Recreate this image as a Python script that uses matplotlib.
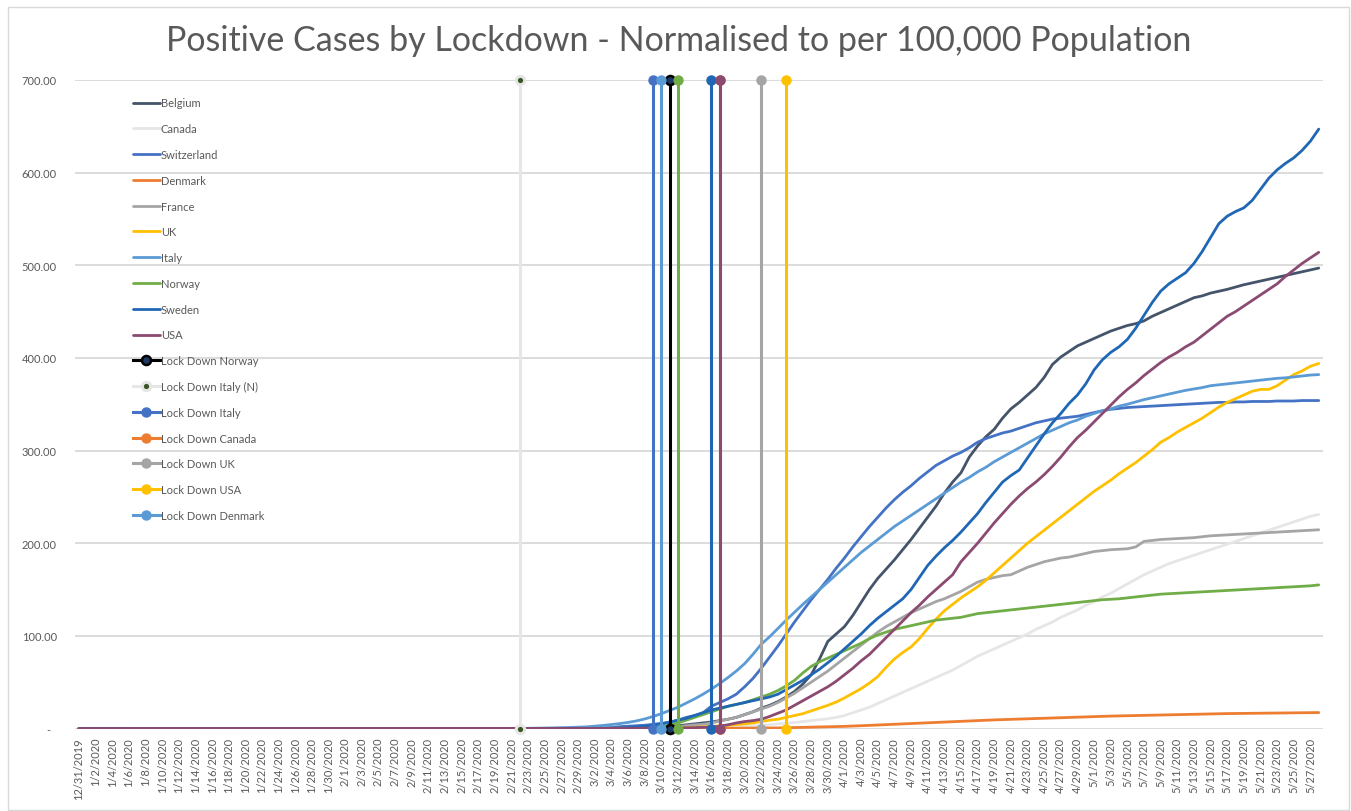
import pandas as pd
import matplotlib
matplotlib.use("Agg")
import matplotlib.pyplot as plt
from matplotlib.patches import Rectangle

plt.rcParams['font.family'] = ['Lato', 'DejaVu Sans']

# Daily categories 12/31/2019 .. 5/28/2020
dates = pd.date_range('2019-12-31', '2020-05-28', freq='D')
date_labels = [f"{d.month}/{d.day}/{d.year}" for d in dates]

# cases per 100,000 population, one value per day
belgium = [
    0, 0, 0, 0, 0, 0, 0, 0, 0, 0,
    0, 0, 0, 0, 0, 0, 0, 0, 0, 0,
    0, 0, 0, 0, 0, 0, 0, 0, 0, 0,
    0, 0, 0, 0, 0, 0, 0, 0, 0, 0,
    0, 0, 0, 0, 0, 0, 0, 0, 0, 0,
    0, 0, 0, 0, 0, 0, 0, 0, 0, 0,
    0, 0, 0, 0.1, 0.1, 0.2, 0.2, 0.2, 0.3, 1.0,
    2.0, 2.5, 3, 4, 5, 6, 7, 8.5, 10, 12,
    15, 18, 22, 25, 29, 34, 40, 48, 58, 75,
    94, 102, 110, 122, 136, 150, 162, 172, 182, 193,
    204, 216, 228, 240, 254, 266, 276, 293, 305, 315,
    323, 335, 345, 352, 360, 368, 379, 393, 401, 407,
    413, 417, 421, 425, 429, 432, 435, 437, 440, 445,
    449, 453, 457, 461, 465, 467, 470, 472, 474, 476.5,
    479, 481, 483, 485, 487, 489, 491, 493, 495, 497,
]
canada = [
    0, 0, 0, 0, 0, 0, 0, 0, 0, 0,
    0, 0, 0, 0, 0, 0, 0, 0, 0, 0,
    0, 0, 0, 0, 0, 0, 0, 0, 0, 0,
    0, 0, 0, 0, 0, 0, 0, 0, 0, 0,
    0, 0, 0, 0, 0, 0, 0, 0, 0, 0,
    0, 0, 0, 0, 0, 0, 0, 0, 0, 0,
    0, 0, 0, 0, 0, 0, 0, 0, 0.1, 0.1,
    0.2, 0.3, 0.4, 0.5, 0.6, 0.8, 1, 1.2, 1.6, 2,
    2.5, 3, 3.5, 4, 5, 5.5, 6.5, 7.5, 8.5, 9.5,
    10.5, 12, 14, 17, 20, 23, 27, 31, 35, 39,
    43, 47, 51, 55, 59, 63, 68, 73, 78, 82,
    86, 90, 94, 98, 102, 107, 111, 115, 120, 124,
    128, 133, 137, 142, 146, 151, 156, 161, 166, 170,
    174, 178, 181, 184, 187, 190, 193, 196, 199, 202,
    205, 208, 211, 214, 217, 220, 223, 226, 229, 231,
]
switzerland = [
    0, 0, 0, 0, 0, 0, 0, 0, 0, 0,
    0, 0, 0, 0, 0, 0, 0, 0, 0, 0,
    0, 0, 0, 0, 0, 0, 0, 0, 0, 0,
    0, 0, 0, 0, 0, 0, 0, 0, 0, 0,
    0, 0, 0, 0, 0, 0, 0, 0, 0, 0,
    0, 0, 0, 0, 0, 0, 0, 0.1, 0.2, 0.2,
    0.2, 0.3, 0.5, 0.7, 1.0, 2.0, 2.5, 3.0, 3.5, 4.5,
    5.5, 6.5, 9, 12, 14, 17, 24, 28, 32, 37,
    45, 54, 65, 77, 89, 102, 115, 127, 139, 150,
    161, 173, 184, 196, 207, 218, 228, 238, 247, 255,
    262, 270, 277, 284, 289, 294, 298, 303, 309, 313,
    316, 319, 321, 324, 327, 330, 332, 334, 335, 336,
    337, 339, 341, 343, 344.5, 345.5, 346.5, 347, 347.5, 348,
    348.5, 349, 349.5, 350, 350.5, 351, 351.5, 352, 352, 352.5,
    352.5, 353, 353, 353, 353.5, 353.5, 353.5, 354, 354, 354,
]
denmark = [
    0, 0, 0, 0, 0, 0, 0, 0, 0, 0,
    0, 0, 0, 0, 0, 0, 0, 0, 0, 0,
    0, 0, 0, 0, 0, 0, 0, 0, 0, 0,
    0, 0, 0, 0, 0, 0, 0, 0, 0, 0,
    0, 0, 0, 0, 0, 0, 0, 0, 0, 0,
    0, 0, 0, 0, 0, 0, 0, 0, 0, 0,
    0, 0, 0, 0, 0, 0, 0, 0, 0, 0,
    0, 0.05, 0.05, 0.1, 0.1, 0.1, 0.15, 0.2, 0.2, 0.25,
    0.3, 0.3, 0.4, 0.5, 0.6, 0.8, 1, 1.2, 1.4, 1.6,
    1.8, 2, 2.3, 2.6, 3, 3.4, 3.8, 4.2, 4.6, 5,
    5.4, 5.8, 6.2, 6.6, 7, 7.4, 7.8, 8.2, 8.6, 9,
    9.3, 9.6, 9.9, 10.2, 10.5, 10.8, 11.1, 11.4, 11.7, 12,
    12.2, 12.5, 12.8, 13.1, 13.4, 13.6, 13.8, 14, 14.2, 14.4,
    14.6, 14.8, 15, 15.2, 15.4, 15.6, 15.8, 16, 16.1, 16.2,
    16.3, 16.4, 16.5, 16.6, 16.7, 16.8, 16.9, 17, 17.1, 17.2,
]
france = [
    0, 0, 0, 0, 0, 0, 0, 0, 0, 0,
    0, 0, 0, 0, 0, 0, 0, 0, 0, 0,
    0, 0, 0, 0, 0, 0, 0, 0, 0, 0,
    0, 0, 0, 0, 0, 0, 0, 0, 0, 0,
    0, 0, 0, 0, 0, 0, 0, 0, 0, 0,
    0, 0, 0, 0, 0, 0, 0, 0, 0, 0,
    0, 0, 0, 0, 0.1, 0.2, 0.3, 0.4, 0.5, 0.7,
    1.0, 1.5, 2, 3, 4, 4.5, 6, 8, 10, 12,
    15, 18, 21, 24, 28, 33, 38, 44, 50, 56,
    62, 69, 76, 83, 90, 97, 104, 110, 115, 120,
    125, 129, 133, 137, 140, 144, 148, 153, 158, 161,
    163, 165, 166, 170, 174, 177, 180, 182, 184, 185,
    187, 189, 191, 192, 193, 193.5, 194, 196, 202, 203,
    204, 204.5, 205, 205.5, 206, 207, 208, 208.5, 209, 209.5,
    210, 210.5, 211, 211.5, 212, 212.5, 213, 213.5, 214, 214.5,
]
uk = [
    0, 0, 0, 0, 0, 0, 0, 0, 0, 0,
    0, 0, 0, 0, 0, 0, 0, 0, 0, 0,
    0, 0, 0, 0, 0, 0, 0, 0, 0, 0,
    0, 0, 0, 0, 0, 0, 0, 0, 0, 0,
    0, 0, 0, 0, 0, 0, 0, 0, 0, 0,
    0, 0, 0, 0, 0, 0, 0, 0, 0, 0,
    0, 0, 0, 0.1, 0.1, 0.1, 0.2, 0.2, 0.3, 0.3,
    0.4, 0.5, 0.7, 0.9, 1.2, 1.7, 2.2, 2.8, 3.5, 4.2,
    5, 6, 7.5, 9, 10, 12, 14, 16, 19, 22,
    25, 28.5, 33, 38, 43, 49, 56, 66, 75, 82,
    88, 97, 108, 118, 127, 134, 141, 147, 153, 160,
    168, 176, 184, 192, 200, 207, 214, 221, 228, 235,
    242, 249, 256, 262, 268, 275, 281, 287, 294, 301,
    309, 314, 320, 325, 330, 335, 341, 347, 352, 356,
    360, 364, 366, 366, 370, 376, 382, 386, 391, 394,
]
italy = [
    0, 0, 0, 0, 0, 0, 0, 0, 0, 0,
    0, 0, 0, 0, 0, 0, 0, 0, 0, 0,
    0, 0, 0, 0, 0, 0, 0, 0, 0, 0,
    0, 0, 0, 0, 0, 0, 0, 0, 0, 0,
    0, 0, 0, 0, 0, 0, 0, 0, 0, 0,
    0, 0, 0, 0.1, 0.2, 0.4, 0.5, 0.7, 0.8, 1.1,
    1.5, 1.8, 2.5, 3.3, 4.3, 5.3, 6.6, 8.2, 10.3, 13.0,
    16.0, 19.5, 23, 27.5, 32, 37, 42.5, 48.5, 55, 62,
    70, 80, 91, 99, 108, 117, 125.5, 134, 142, 150,
    158, 166, 174, 182, 190, 197, 204, 211, 218, 224,
    230, 236, 242, 248, 254, 260, 266, 271, 277, 282,
    288, 293, 298, 303, 308, 313, 318, 322, 326, 330,
    333, 337, 340, 343, 345, 348, 350, 352.5, 355, 357,
    359, 361, 363, 365, 366.5, 368, 370, 371, 372, 373,
    374, 375, 376, 377, 378, 378.5, 379.5, 380.5, 381.5, 382,
]
norway = [
    0, 0, 0, 0, 0, 0, 0, 0, 0, 0,
    0, 0, 0, 0, 0, 0, 0, 0, 0, 0,
    0, 0, 0, 0, 0, 0, 0, 0, 0, 0,
    0, 0, 0, 0, 0, 0, 0, 0, 0, 0,
    0, 0, 0, 0, 0, 0, 0, 0, 0, 0,
    0, 0, 0, 0, 0, 0, 0, 0, 0, 0,
    0, 0, 0, 0.1, 0.2, 0.3, 0.5, 0.8, 1.2, 1.8,
    2.5, 3.5, 6, 9, 12, 15, 18, 21, 24, 26,
    28, 31, 34, 37, 41, 46, 52, 60, 67, 72,
    76, 80, 84, 88, 92, 97, 101, 104, 107, 109,
    111, 113, 115, 117, 118, 119, 120, 122, 124, 125,
    126, 127, 128, 129, 130, 131, 132, 133, 134, 135,
    136, 137, 138, 139, 139.5, 140, 141, 142, 143, 144,
    145, 145.5, 146, 146.5, 147, 147.5, 148, 148.5, 149, 149.5,
    150, 150.5, 151, 151.5, 152, 152.5, 153, 153.5, 154, 155,
]
sweden = [
    0, 0, 0, 0, 0, 0, 0, 0, 0, 0,
    0, 0, 0, 0, 0, 0, 0, 0, 0, 0,
    0, 0, 0, 0, 0, 0, 0, 0, 0, 0,
    0, 0, 0, 0, 0, 0, 0, 0, 0, 0,
    0, 0, 0, 0, 0, 0, 0, 0, 0, 0,
    0, 0, 0, 0, 0, 0, 0, 0, 0, 0,
    0, 0, 0, 0.1, 0.2, 0.5, 1, 1.5, 2.5, 3.5,
    5, 7, 9, 11, 14, 17, 20, 22, 24, 26,
    28, 30, 32, 34, 37, 42, 47, 52, 58, 64,
    71, 78, 86, 94, 102, 111, 119, 126, 133, 140,
    150, 163, 176, 186, 195, 203, 212, 222, 232, 244,
    255, 266, 273, 279, 292, 305, 318, 330, 340, 351,
    360, 372, 387, 398, 406, 412, 420, 432, 446, 460,
    472, 480, 486, 492, 502, 515, 530, 545, 553, 558,
    562, 570, 582, 594, 603, 610, 616, 624, 634, 647,
]
usa = [
    0, 0, 0, 0, 0, 0, 0, 0, 0, 0,
    0, 0, 0, 0, 0, 0, 0, 0, 0, 0,
    0, 0, 0, 0, 0, 0, 0, 0, 0, 0,
    0, 0, 0, 0, 0, 0, 0, 0, 0, 0,
    0, 0, 0, 0, 0, 0, 0, 0, 0, 0,
    0, 0, 0, 0, 0, 0, 0, 0, 0, 0,
    0, 0, 0, 0, 0, 0, 0, 0.1, 0.2, 0.2,
    0.3, 0.4, 0.5, 0.7, 0.9, 1.2, 1.6, 2.5, 4, 6,
    7.5, 8.5, 10, 13, 16.5, 20, 25, 30, 35, 40,
    45, 51, 58, 65, 73, 80, 89, 98, 107, 116,
    125, 133, 142, 150, 158, 166, 180, 190, 200, 211,
    222, 232, 242, 251, 259, 266, 274, 283, 293, 304,
    314, 322, 331, 340, 349, 358, 366, 373, 381, 388,
    395, 401, 406, 412, 417, 424, 431, 438, 445, 450,
    456, 462, 468, 474, 480, 488, 495, 502, 508, 514,
]

countries = ["Belgium", "Canada", "Switzerland", "Denmark", "France",
             "UK", "Italy", "Norway", "Sweden", "USA"]
country_values = [belgium, canada, switzerland, denmark, france,
                  uk, italy, norway, sweden, usa]
country_colors = ["#44546A", "#E7E6E6", "#4472C4", "#ED7D31", "#A5A5A5",
                  "#FFC000", "#5B9BD5", "#70AD47", "#1F67B5", "#8B4A72"]

# lockdown markers: name, date, color (last three are not in the legend)
lockdown_names = ["Lock Down Norway", "Lock Down Italy (N)", "Lock Down Italy",
                  "Lock Down Canada", "Lock Down UK", "Lock Down USA",
                  "Lock Down Denmark", "_ld_green", "_ld_blue", "_ld_purple"]
lockdown_dates = ["2020-03-11", "2020-02-22", "2020-03-09", "2020-03-17",
                  "2020-03-22", "2020-03-25", "2020-03-10", "2020-03-12",
                  "2020-03-16", "2020-03-17"]
lockdown_colors = ["#000000", "#E7E6E6", "#4472C4", "#ED7D31", "#A5A5A5",
                   "#FFC000", "#5B9BD5", "#70AD47", "#1F67B5", "#8B4A72"]
lockdown_span = [0, 700]

W, H = 1351, 812
fig = plt.figure(figsize=(W / 100, H / 100), dpi=100)
ax = fig.add_axes([74.8 / W, (H - 729.5) / H, (1322.9 - 74.8) / W, 648.5 / H])

x = list(range(len(dates)))
handles = []
for name, vals, col in zip(countries, country_values, country_colors):
    ln, = ax.plot(x, vals, color=col, lw=2.0, label=name, solid_capstyle='round')
    handles.append(ln)

date_index = {d.strftime('%Y-%m-%d'): i for i, d in enumerate(dates)}
for name, d, col in zip(lockdown_names, lockdown_dates, lockdown_colors):
    xi = date_index[d]
    if name == "Lock Down Italy (N)":
        ln, = ax.plot([xi, xi], lockdown_span, color=col, lw=2.2, marker='o',
                      ms=6, mfc='#375623', mec=col, mew=2.2, clip_on=False,
                      label=name, zorder=3)
    elif name == "Lock Down Norway":
        ln, = ax.plot([xi, xi], lockdown_span, color=col, lw=2.2, marker='o',
                      ms=6.5, mfc='#1F3864', mec=col, mew=1.8, clip_on=False,
                      label=name, zorder=3)
    else:
        ln, = ax.plot([xi, xi], lockdown_span, color=col, lw=2.2, marker='o',
                      ms=6.5, mfc=col, mec=col, clip_on=False, label=name,
                      zorder=3)
    if not name.startswith('_'):
        handles.append(ln)

ax.set_xlim(-0.5, len(dates) - 0.5)
ax.set_ylim(0, 700)

# axes styling in the Excel look
for s in ax.spines.values():
    s.set_visible(False)
ax.set_yticks(range(0, 701, 100))
ax.set_yticklabels(["-  "] + [f"{v:.2f}" for v in range(100, 701, 100)])
ax.yaxis.grid(True, color="#D9D9D9", lw=1.3)
ax.set_axisbelow(True)
ax.set_xticks(x[::2])
ax.set_xticklabels(date_labels[::2], rotation=90)
ax.tick_params(axis='both', length=0, labelsize=8, labelcolor="#595959")
ax.tick_params(axis='y', pad=13)
ax.tick_params(axis='x', pad=6)

leg = ax.legend(handles=handles, loc='upper left', bbox_to_anchor=(0.043, 0.98),
                frameon=False, fontsize=8, handlelength=2.4, handletextpad=0.1,
                labelspacing=1.33, borderaxespad=0, numpoints=1)
for t in leg.get_texts():
    t.set_color("#595959")

fig.text(679 / W, 1 - 41 / H, "Positive Cases by Lockdown - Normalised to per 100,000 Population",
         ha='center', va='center', fontsize=24.5, color="#595959")

fig.patches.append(Rectangle((8 / W, 1 - 811 / H), (1349 - 8) / W, (811 - 8) / H,
                             transform=fig.transFigure, fill=False,
                             edgecolor="#D9D9D9", lw=1))

fig.savefig("out.png", dpi=100)
